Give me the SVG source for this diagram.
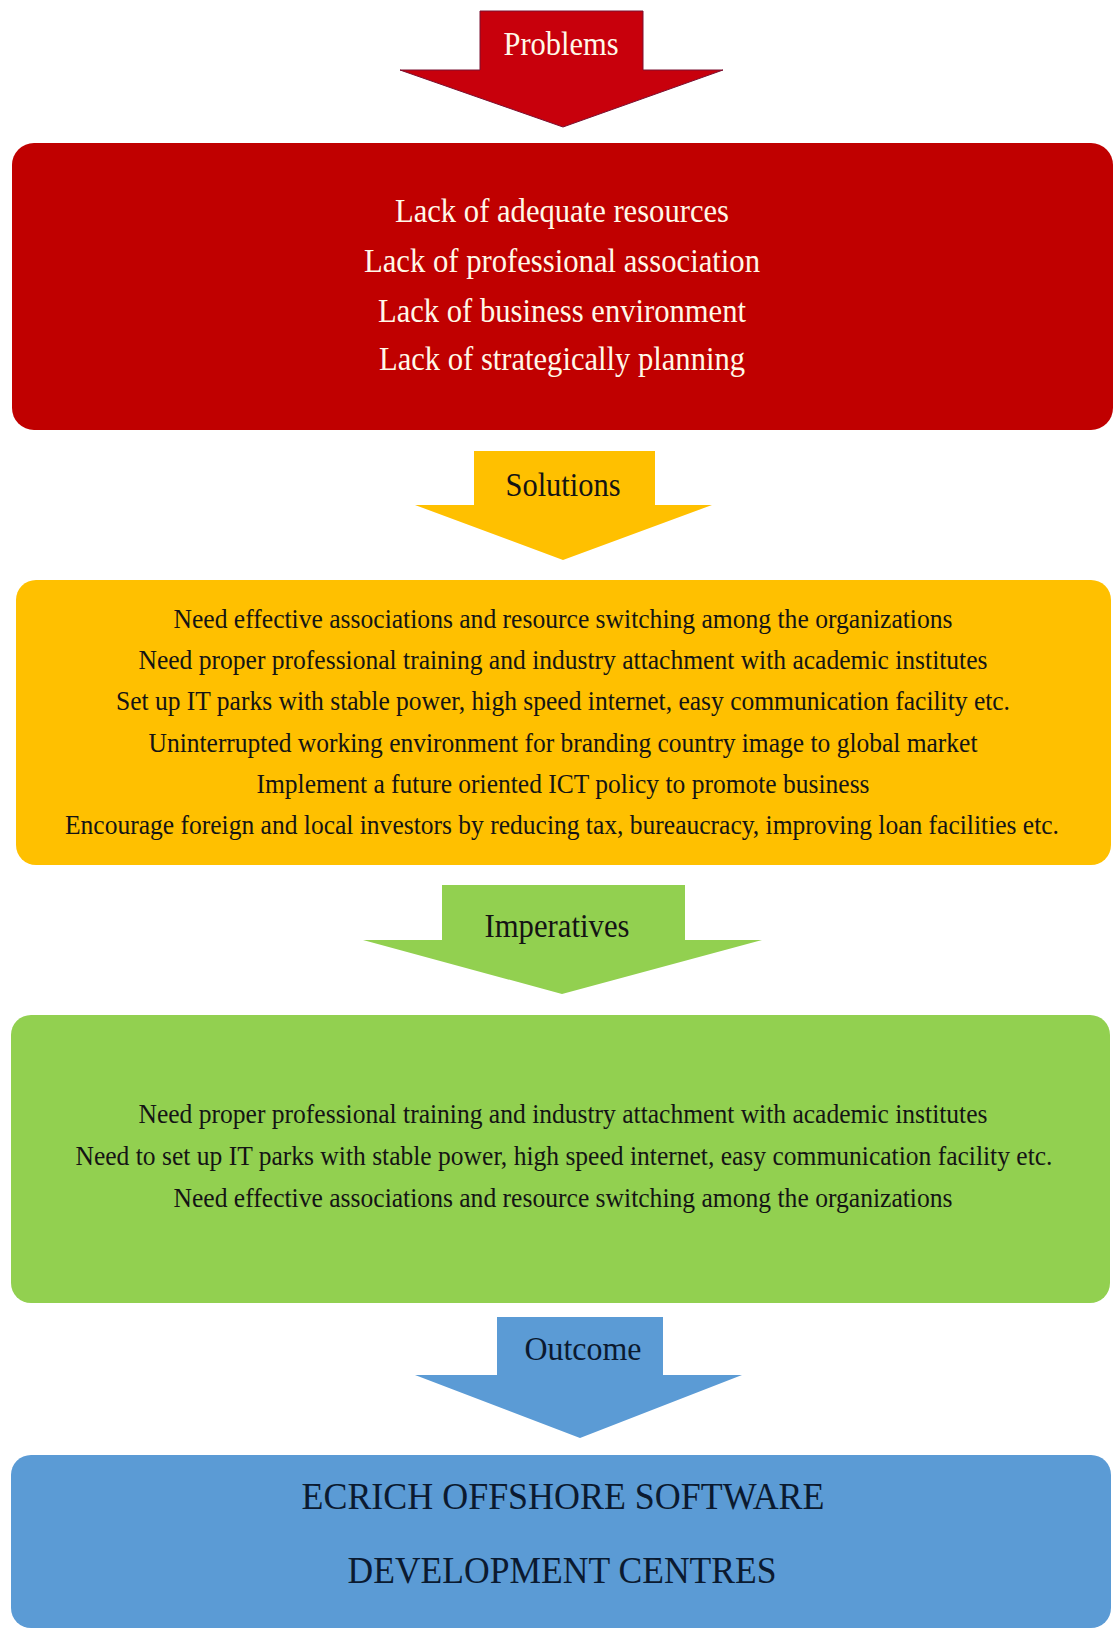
<svg xmlns="http://www.w3.org/2000/svg" width="1115" height="1629" viewBox="0 0 1115 1629">
<style>
text{font-family:"Liberation Serif","Times New Roman",serif;text-anchor:middle}
.big{font-size:34px}
.mid{font-size:27px}
.out{font-size:38px;fill:#0b1a30}
.light{fill:#fff8e8}
.dark{fill:#141414}
</style>
<rect width="1115" height="1629" fill="#ffffff"/>
<g id="connectors">
  <g id="arrow-problems">
    <polygon points="480,11 643,11 643,70 723,70 563,127 400,70 480,70" fill="#c8000c" stroke="#7a1030" stroke-width="1"/>
    <text class="big light" x="561" y="55" textLength="115" lengthAdjust="spacingAndGlyphs">Problems</text>
  </g>
  <g id="arrow-solutions">
    <polygon points="474,451 655,451 655,505 712,505 563,560 415,505 474,505" fill="#ffc000"/>
    <text class="big dark" x="563" y="496" textLength="115" lengthAdjust="spacingAndGlyphs">Solutions</text>
  </g>
  <g id="arrow-imperatives">
    <polygon points="442,885 685,885 685,940 762,940 562,994 363,940 442,940" fill="#92d050"/>
    <text class="big dark" x="557" y="937" textLength="145" lengthAdjust="spacingAndGlyphs">Imperatives</text>
  </g>
  <g id="arrow-outcome">
    <polygon points="497,1317 663,1317 663,1375 742,1375 580,1438 415,1375 497,1375" fill="#5b9bd5"/>
    <text class="big" x="583" y="1360" fill="#0b1a30" textLength="117" lengthAdjust="spacingAndGlyphs">Outcome</text>
  </g>
</g>
<g id="problems">
  <rect x="12" y="143" width="1101" height="287" rx="22" fill="#c00000"/>
  <text class="big light" x="562" y="222" textLength="334" lengthAdjust="spacingAndGlyphs">Lack of adequate resources</text>
  <text class="big light" x="562" y="272" textLength="396" lengthAdjust="spacingAndGlyphs">Lack of professional association</text>
  <text class="big light" x="562" y="322" textLength="368" lengthAdjust="spacingAndGlyphs">Lack of business environment</text>
  <text class="big light" x="562" y="370" textLength="366" lengthAdjust="spacingAndGlyphs">Lack of strategically  planning</text>
</g>
<g id="solutions">
  <rect x="16" y="580" width="1095" height="285" rx="20" fill="#ffc000"/>
  <text class="mid dark" x="563" y="628" textLength="779" lengthAdjust="spacingAndGlyphs">Need effective associations and resource switching among the organizations</text>
  <text class="mid dark" x="563" y="669" textLength="849" lengthAdjust="spacingAndGlyphs">Need proper professional training and industry attachment with academic institutes</text>
  <text class="mid dark" x="563" y="710" textLength="894" lengthAdjust="spacingAndGlyphs">Set up IT parks with stable power, high speed internet, easy communication facility etc.</text>
  <text class="mid dark" x="563" y="752" textLength="829" lengthAdjust="spacingAndGlyphs">Uninterrupted working environment for branding country image to global market</text>
  <text class="mid dark" x="563" y="793" textLength="613" lengthAdjust="spacingAndGlyphs">Implement a future oriented ICT policy to promote business</text>
  <text class="mid dark" x="562" y="834" textLength="994" lengthAdjust="spacingAndGlyphs">Encourage foreign and local investors by reducing tax, bureaucracy, improving loan facilities etc.</text>
</g>
<g id="imperatives">
  <rect x="11" y="1015" width="1099" height="288" rx="20" fill="#92d050"/>
  <text class="mid dark" x="563" y="1123" textLength="849" lengthAdjust="spacingAndGlyphs">Need proper professional training and industry attachment with academic institutes</text>
  <text class="mid dark" x="564" y="1165" textLength="977" lengthAdjust="spacingAndGlyphs">Need to set up IT parks with stable power, high speed internet, easy communication facility etc.</text>
  <text class="mid dark" x="563" y="1207" textLength="779" lengthAdjust="spacingAndGlyphs">Need effective associations and resource switching among the organizations</text>
</g>
<g id="outcome">
  <rect x="11" y="1455" width="1100" height="173" rx="20" fill="#5b9bd5"/>
  <text class="out" x="563" y="1509" textLength="523" lengthAdjust="spacingAndGlyphs">ECRICH OFFSHORE SOFTWARE</text>
  <text class="out" x="562" y="1583" textLength="429" lengthAdjust="spacingAndGlyphs">DEVELOPMENT CENTRES</text>
</g>
</svg>
